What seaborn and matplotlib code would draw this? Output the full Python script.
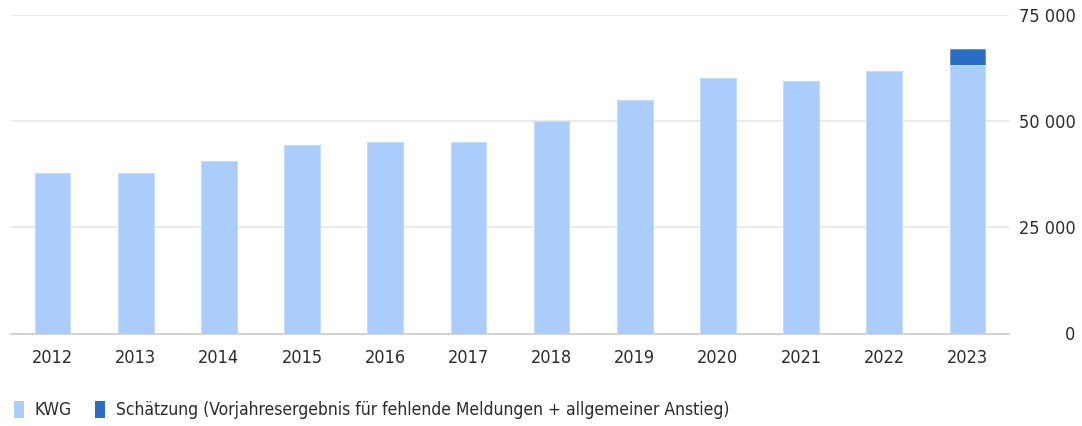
import pandas as pd
import seaborn as sns
import matplotlib.pyplot as plt
from matplotlib.patches import Patch

# Data
years = ["2012", "2013", "2014", "2015", "2016", "2017",
         "2018", "2019", "2020", "2021", "2022", "2023"]
kwg = [37900, 37900, 40600, 44400, 45100, 45100,
       50000, 55000, 60200, 59400, 61700, 63200]
schaetzung = [0, 0, 0, 0, 0, 0, 0, 0, 0, 0, 0, 3800]
y_ticks = [0, 25000, 50000, 75000]

light_blue = "#aacdfe"
dark_blue = "#2a6ec4"

df = pd.DataFrame({"Jahr": years, "KWG": kwg, "Schätzung": schaetzung})
df["Gesamt"] = df["KWG"] + df["Schätzung"]

sns.set_style("white")
plt.rcParams["font.family"] = ["DejaVu Sans"]
plt.rcParams["font.stretch"] = "condensed"

fig = plt.figure(figsize=(10.82, 4.26), dpi=100)
ax = fig.add_axes([11 / 1082, 1 - 333.5 / 426, 998 / 1082, 318.5 / 426])

# stacked bars: total in dark blue, KWG drawn over it
sns.barplot(data=df, x="Jahr", y="Gesamt", color=dark_blue, width=0.43,
            saturation=1, edgecolor="#5a8fd6", linewidth=0.6, ax=ax, zorder=2)
sns.barplot(data=df, x="Jahr", y="KWG", color=light_blue, width=0.43,
            saturation=1, edgecolor="#d4e5ff", linewidth=0.6, ax=ax, zorder=3)

ax.set_xlim(-0.5, len(years) - 0.5)
ax.set_ylim(0, 75000)
ax.set_yticks(y_ticks)
ax.set_yticklabels([f"{v:,}".replace(",", " ") for v in y_ticks])
ax.yaxis.tick_right()
for lbl in ax.get_yticklabels():
    lbl.set_horizontalalignment("right")
ax.tick_params(axis="y", length=0, pad=48, labelsize=13, labelcolor="#2b2b2b")
ax.tick_params(axis="x", length=0, pad=11, labelsize=13, labelcolor="#2b2b2b")
ax.set_xlabel("")
ax.set_ylabel("")

ax.grid(axis="y", color="#e6e6e6", linewidth=1.2, zorder=0)
ax.set_axisbelow(True)
for side in ["top", "left", "right"]:
    ax.spines[side].set_visible(False)
ax.spines["bottom"].set_color("#cccccc")
ax.spines["bottom"].set_linewidth(1.2)

handles = [Patch(facecolor=light_blue, edgecolor="none"),
           Patch(facecolor=dark_blue, edgecolor="none")]
labels = ["KWG", "Schätzung (Vorjahresergebnis für fehlende Meldungen + allgemeiner Anstieg)"]
fig.legend(handles, labels, loc="center left", bbox_to_anchor=(14 / 1082, 1 - 410 / 426),
           ncol=2, frameon=False, fontsize=12.5, labelcolor="#2b2b2b",
           handlelength=0.55, handleheight=1.1, handletextpad=0.65,
           columnspacing=1.35, borderpad=0, borderaxespad=0)

fig.savefig("out.png", dpi=100)
